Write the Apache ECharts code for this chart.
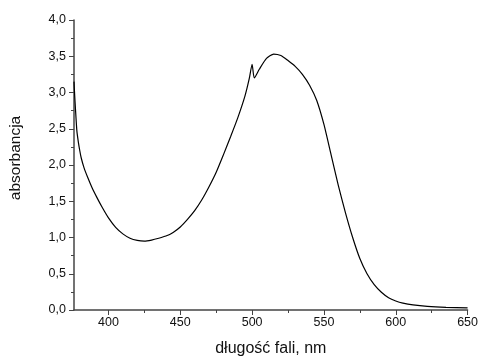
<!DOCTYPE html>
<html><head><meta charset="utf-8">
<script src="https://cdn.jsdelivr.net/npm/echarts@6/dist/echarts.min.js"></script>
<style>html,body{margin:0;padding:0;background:#fff}#c{width:481px;height:362px}</style>
</head><body><div id="c"></div>
<script>
// wavelength (nm)
const wavelengths = [376,376.5,377,378,379,380,381,383,385.5,388.5,392,395.5,400,405,410,415,420,425,430,435,440,445,450,455,460,465,470,475,480,485,490,495,498,500,501.5,505,510,515,520,525,530,535,540,545,550,555,560,565,570,575,580,585,590,595,600,605,612,622,635,650];
// absorbance
const absorbance = [3.15,2.95,2.78,2.47,2.32,2.2,2.1,1.96,1.83,1.69,1.55,1.42,1.27,1.14,1.05,0.99,0.96,0.95,0.965,0.99,1.02,1.07,1.145,1.25,1.37,1.52,1.7,1.9,2.14,2.39,2.65,2.95,3.19,3.39,3.2,3.32,3.47,3.53,3.51,3.44,3.36,3.25,3.1,2.89,2.56,2.14,1.72,1.34,1.0,0.71,0.5,0.35,0.245,0.17,0.125,0.095,0.07,0.05,0.037,0.03];
const xTicks = [400,450,500,550,600,650];
const xMinorTicks = [425,475,525,575,625];
const yTicks = [0,0.5,1,1.5,2,2.5,3,3.5,4];

const font = 'Liberation Sans, Arial, sans-serif';
const axisColor = '#444';
const chart = echarts.init(document.getElementById('c'));
chart.setOption({
  animation: false,
  grid: {left: 70, right: 11, top: 20, bottom: 47},
  xAxis: [{
    type: 'value', min: 376, max: 650,
    name: 'długość fali, nm', nameLocation: 'middle', nameGap: 31,
    nameTextStyle: {fontFamily: font, fontSize: 16, color: '#111'},
    axisLine: {show: true, lineStyle: {color: axisColor, width: 1.5}},
    axisTick: {show: true, length: 5, customValues: xTicks, lineStyle: {color: axisColor}},
    axisLabel: {customValues: xTicks, fontFamily: font, fontSize: 12.5, color: '#111', margin: 6},
    splitLine: {show: false}
  },{
    type: 'value', min: 376, max: 650, position: 'bottom',
    axisLine: {show: false},
    axisTick: {show: true, length: 3, customValues: xMinorTicks, lineStyle: {color: axisColor}},
    axisLabel: {show: false},
    splitLine: {show: false}
  }],
  yAxis: {
    type: 'value', min: 0, max: 4, interval: 0.5,
    name: 'absorbancja', nameLocation: 'middle', nameGap: 50,
    nameTextStyle: {fontFamily: font, fontSize: 15.5, color: '#111', padding: [0, 0, 0, 14]},
    axisLine: {show: true, lineStyle: {color: axisColor, width: 1.5}},
    axisTick: {show: true, length: 5, lineStyle: {color: axisColor}},
    minorTick: {show: true, splitNumber: 2, length: 3, lineStyle: {color: axisColor}},
    axisLabel: {fontFamily: font, fontSize: 12.5, color: '#111', margin: 8,
      formatter: v => v.toFixed(1).replace('.', ',')},
    splitLine: {show: false}
  },
  series: [{
    type: 'line', xAxisIndex: 0,
    data: wavelengths.map((w, i) => [w, absorbance[i]]),
    showSymbol: false, smooth: 0.2,
    lineStyle: {color: '#000', width: 1.2}
  }]
});
</script></body></html>
